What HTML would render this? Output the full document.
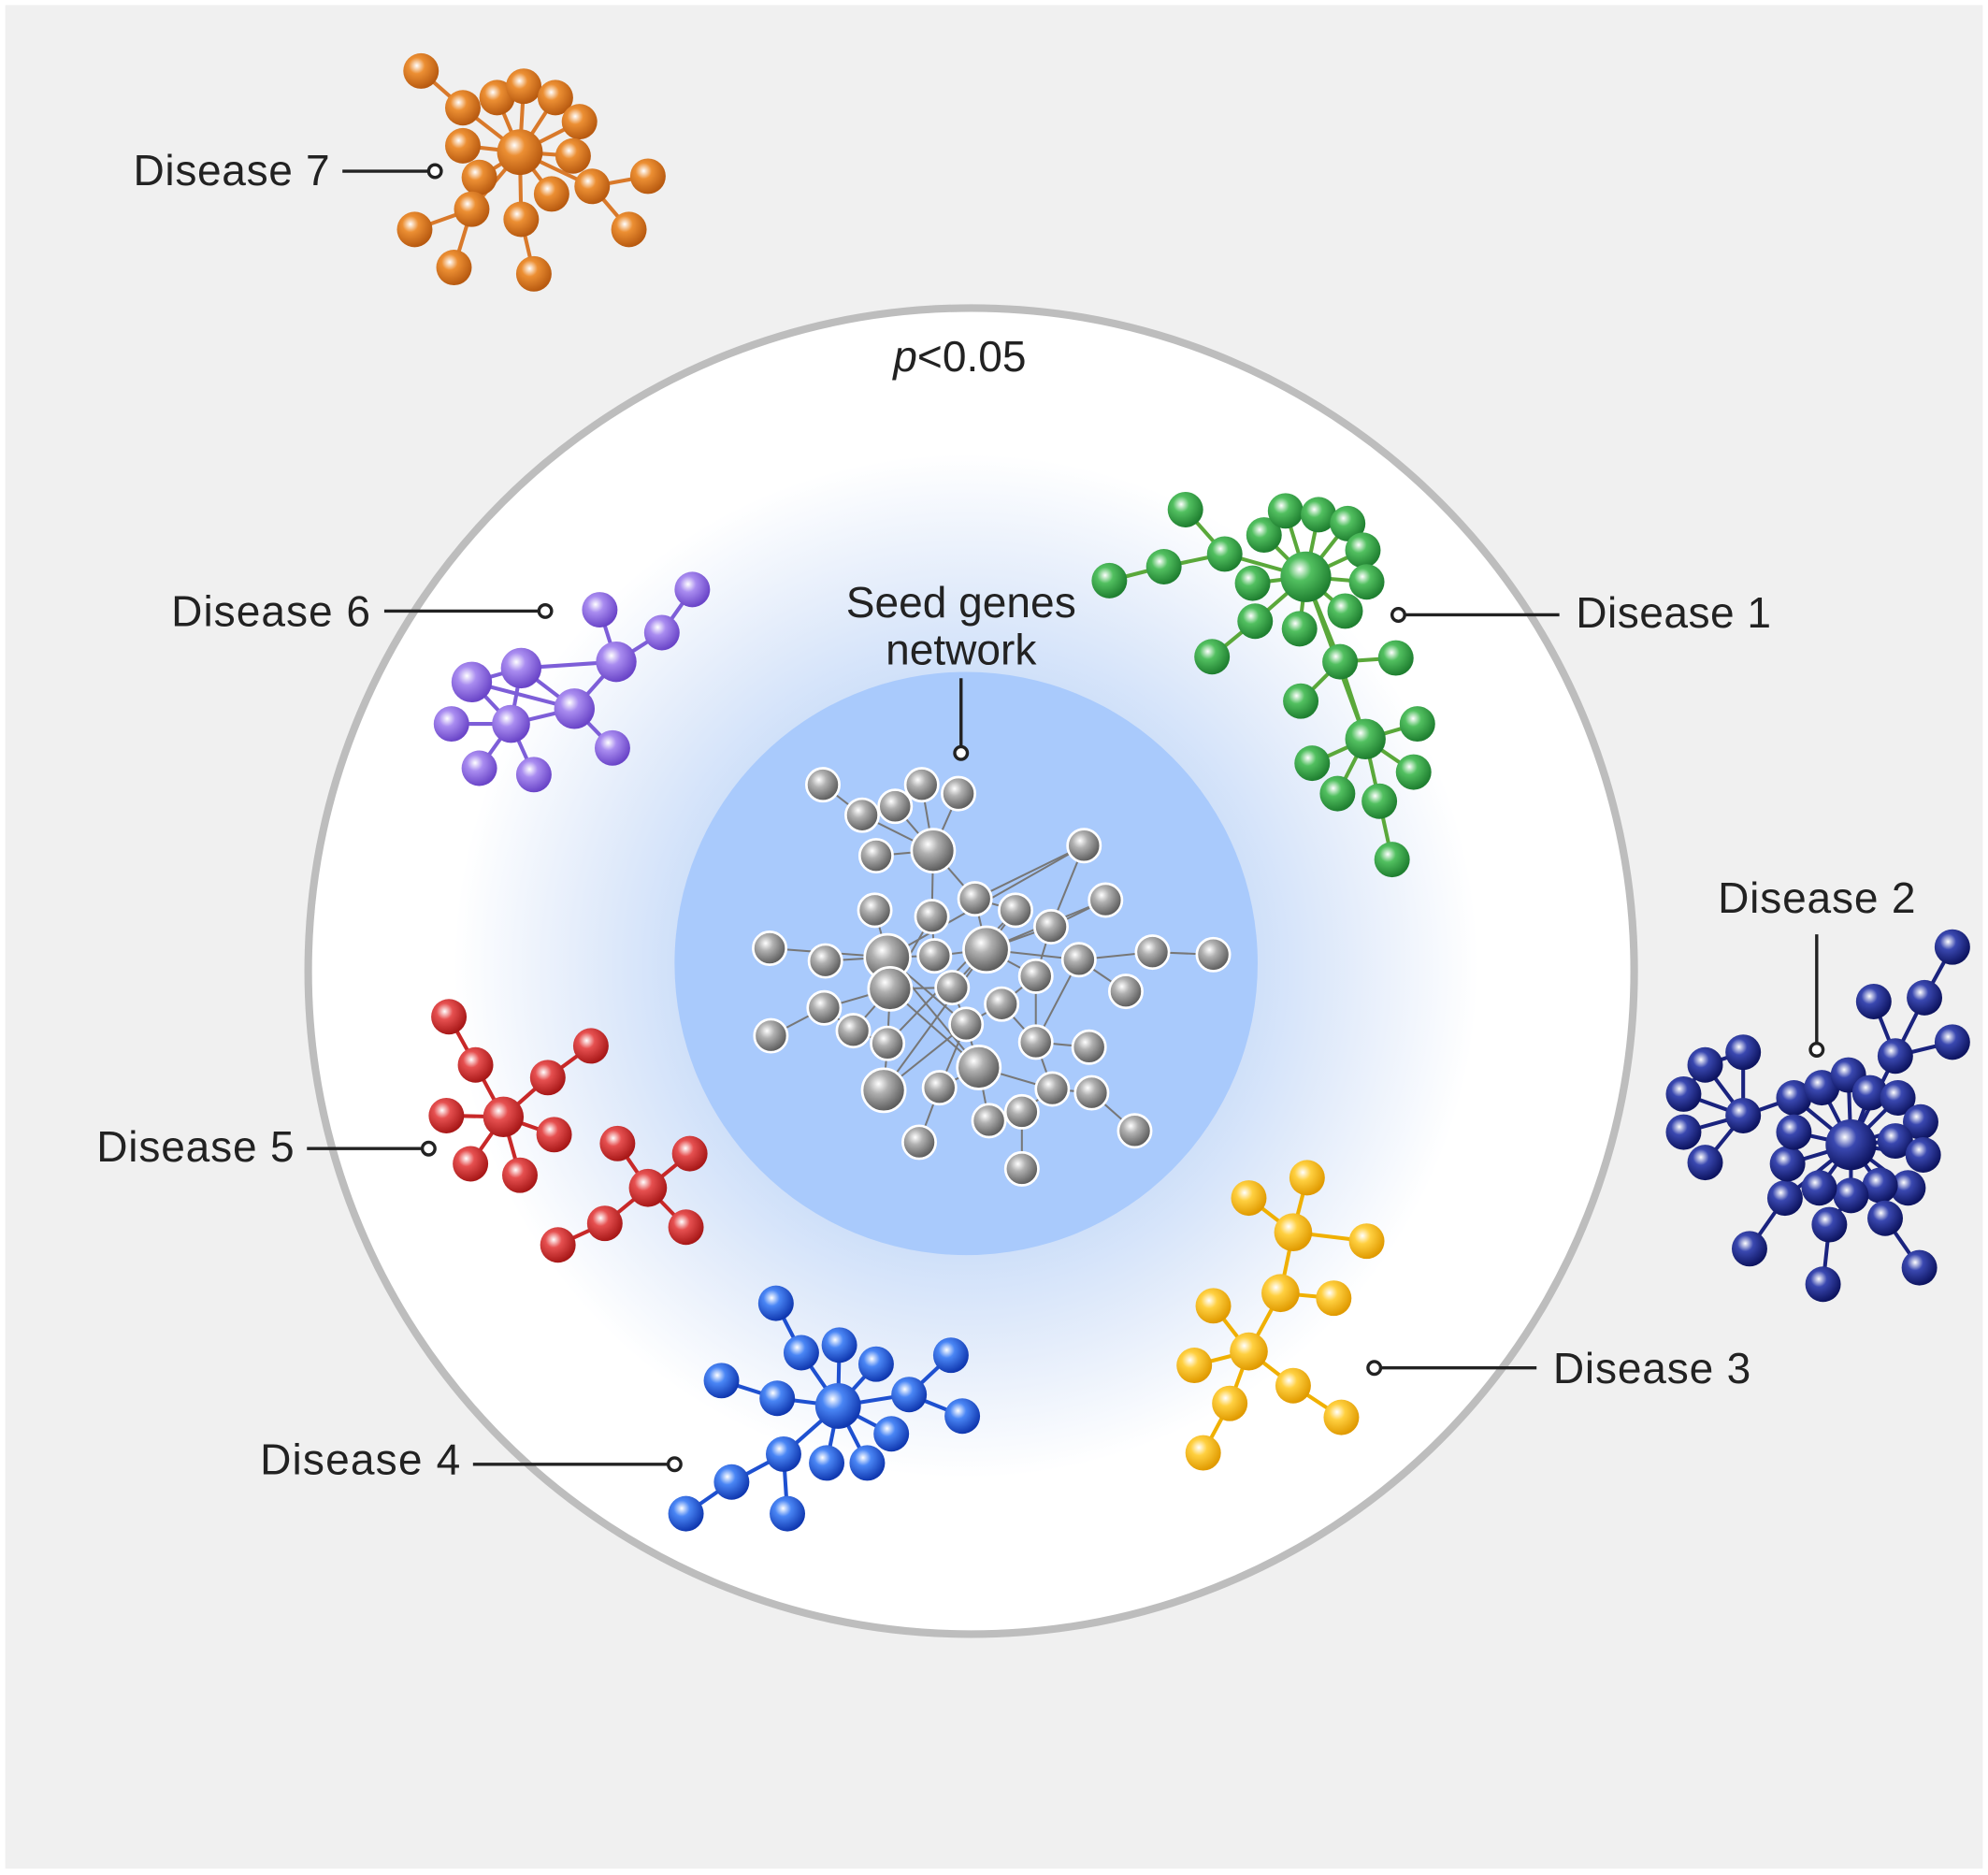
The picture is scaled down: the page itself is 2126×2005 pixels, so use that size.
<!DOCTYPE html>
<html><head><meta charset="utf-8"><style>
html,body{margin:0;padding:0;background:#fff}
svg{display:block}
text{font-family:"Liberation Sans",sans-serif;fill:#222}
</style></head><body>
<svg id="s" width="2126" height="2005" viewBox="0 0 1568 1479" xmlns="http://www.w3.org/2000/svg">
<defs>
<radialGradient id="glow" cx="0.5" cy="0.5" r="0.5">
<stop offset="0.44" stop-color="#cfe0f9"/>
<stop offset="0.6" stop-color="#e6eefb"/>
<stop offset="0.78" stop-color="#ffffff"/>
</radialGradient>
</defs>
<rect x="0" y="0" width="1568" height="1479" fill="#fff"/>
<rect x="4" y="4" width="1560" height="1470" fill="#f0f0f0"/>
<circle cx="766" cy="766" r="523" fill="#fff"/>
<circle cx="762" cy="762" r="518" fill="url(#glow)"/>
<circle cx="766" cy="766" r="523" fill="none" stroke="#bdbdbd" stroke-width="6"/>
<circle cx="762" cy="760" r="230" fill="#a9cafc"/>
<g id="net"></g>
<g stroke="#222" stroke-width="2.5" fill="#fff">
<line x1="270" y1="135" x2="339" y2="135"/><circle cx="343" cy="135" r="5"/>
<line x1="303" y1="482" x2="425" y2="482"/><circle cx="430" cy="482" r="5"/>
<line x1="1108" y1="485" x2="1230" y2="485"/><circle cx="1103" cy="485" r="5"/>
<line x1="1433" y1="737" x2="1433" y2="823"/><circle cx="1433" cy="828" r="5"/>
<line x1="242" y1="906" x2="333" y2="906"/><circle cx="338" cy="906" r="5"/>
<line x1="373" y1="1155" x2="527" y2="1155"/><circle cx="532" cy="1155" r="5"/>
<line x1="1089" y1="1079" x2="1212" y2="1079"/><circle cx="1084" cy="1079" r="5"/>
<line x1="758" y1="535" x2="758" y2="589"/><circle cx="758" cy="594" r="5"/>
</g>
<g font-size="34">
<text x="105" y="146" textLength="155">Disease 7</text>
<text x="135" y="494" textLength="157">Disease 6</text>
<text x="1243" y="495" textLength="154">Disease 1</text>
<text x="1355" y="720" textLength="156">Disease 2</text>
<text x="76" y="916" textLength="156">Disease 5</text>
<text x="205" y="1163" textLength="158">Disease 4</text>
<text x="1225" y="1091" textLength="156">Disease 3</text>
<text x="758" y="487" text-anchor="middle">Seed genes</text>
<text x="758" y="524" text-anchor="middle">network</text>
<text x="757" y="293" text-anchor="middle"><tspan font-style="italic">p</tspan>&lt;0.05</text>
</g>
</svg>
<script>
const NS="http://www.w3.org/2000/svg";
const net=document.getElementById('net');const defs=document.querySelector('defs');
function grad(id,c,d){const g=document.createElementNS(NS,'radialGradient');g.id=id;g.setAttribute('cx','0.38');g.setAttribute('cy','0.35');g.setAttribute('r','0.65');
g.innerHTML=`<stop offset="0" stop-color="#fff"/><stop offset="0.35" stop-color="${c}"/><stop offset="1" stop-color="${d}"/>`;defs.appendChild(g);}
function cluster(id,c,d,line,lw,nodes,edges,r){
 grad(id,c,d);
 const g=document.createElementNS(NS,'g');net.appendChild(g);
 edges.forEach(([a,b])=>{const l=document.createElementNS(NS,'line');const A=nodes[a],B=nodes[b];
 l.setAttribute('x1',A[0]);l.setAttribute('y1',A[1]);l.setAttribute('x2',B[0]);l.setAttribute('y2',B[1]);
 l.setAttribute('stroke',line);l.setAttribute('stroke-width',lw);g.appendChild(l);});
 nodes.forEach(n=>{const ci=document.createElementNS(NS,'circle');ci.setAttribute('cx',n[0]);ci.setAttribute('cy',n[1]);ci.setAttribute('r',n[2]||r);
 ci.setAttribute('fill',`url(#${id})`);if(id=='gr'){ci.setAttribute('stroke','#fff');ci.setAttribute('stroke-width','2');}g.appendChild(ci);});
}
function star(hub,n,extra){const e=[];for(let i=1;i<n;i++)if(!extra.skip||!extra.skip.includes(i))e.push([0,i]);return e.concat(extra.e||[]);}
let N=[[410,120,18],[332,56],[365,85],[392,77],[413,68],[438,77],[457,96],[365,115],[378,140],[452,123],[435,153],[467,147],[511,139],[496,181],[411,173],[372,165],[327,181],[358,211],[421,216]];
cluster('o','#ec8f33','#b85a10','#d9792a',3,N,star(0,N.length,{skip:[1,12,13,16,17,18],e:[[1,2],[11,12],[11,13],[15,16],[15,17],[14,18]]}),14);
N=[[546,465],[522,499],[486,522,16],[473,481],[411,527,16],[372,538,16],[453,559,16],[403,571,15],[356,571],[378,606],[421,611],[483,590]];
cluster('p','#a98cf0','#6a45c8','#7d5ed8',3,N,[[0,1],[1,2],[2,3],[2,4],[2,6],[4,5],[4,6],[5,6],[7,8],[7,9],[7,10],[6,11],[4,7],[5,7],[6,7]],14);
N=[[1030,455,20],[935,402],[966,437],[918,447],[875,458],[997,422],[1014,403],[1040,406],[1063,413],[1075,434],[1078,459],[1061,482],[1025,496],[990,490],[988,460],[956,518],[1057,522],[1101,519],[1026,553],[1077,583,16],[1118,571],[1115,609],[1088,632],[1055,626],[1035,602],[1098,678]];
cluster('g','#52c060','#1f7f30','#5aa83a',3,N,[[1,2],[4,3],[3,2],[2,0],[0,5],[0,6],[0,7],[0,8],[0,9],[0,10],[0,11],[0,12],[0,13],[0,14],[13,15],[0,16],[16,17],[16,18],[0,19],[16,19],[19,20],[19,21],[19,22],[19,23],[19,24],[22,25]],14);
N=[[1460,903,20],[1540,747],[1518,787],[1478,790],[1495,833],[1540,822],[1328,863],[1345,840],[1375,830],[1375,880],[1328,893],[1345,917],[1415,866],[1437,858],[1458,848],[1475,862],[1497,866],[1515,885],[1495,900],[1517,911],[1505,937],[1483,935],[1460,943],[1435,937],[1408,945],[1410,918],[1415,893],[1443,966],[1487,961],[1380,985],[1438,1013],[1514,1000]];
cluster('n','#3a48b0','#0d1460','#1a237e',3,N,[[1,2],[2,4],[3,4],[5,4],[4,0],[6,9],[7,9],[8,9],[10,9],[11,9],[9,12],[12,0],[0,13],[0,14],[0,15],[0,16],[0,17],[0,18],[0,19],[0,20],[0,21],[0,22],[0,23],[0,24],[0,25],[0,26],[22,27],[21,28],[24,29],[27,30],[28,31],[7,8],[6,7]],14);
N=[[397,881,16],[354,802],[375,840],[432,850],[466,825],[352,880],[437,895],[371,918],[410,927],[511,937,15],[487,902],[544,910],[477,965],[440,982],[541,968]];
cluster('r','#e65050','#a81818','#c82828',3,N,[[1,2],[2,0],[0,3],[3,4],[0,5],[0,6],[0,7],[0,8],[9,10],[9,11],[9,12],[12,13],[9,14]],14);
N=[[661,1109,18],[612,1028],[632,1067],[662,1061],[691,1076],[750,1069],[717,1100],[759,1117],[703,1131],[684,1154],[652,1154],[618,1147],[577,1169],[541,1194],[621,1194],[569,1089],[613,1103]];
cluster('b','#4a86f5','#1038b0','#1e50d0',3,N,[[1,2],[2,0],[0,3],[0,4],[5,6],[6,0],[6,7],[0,8],[0,9],[0,10],[0,11],[11,12],[12,13],[11,14],[15,16],[16,0]],14);
N=[[1031,929],[1020,972,15],[985,945],[1078,979],[1010,1020,15],[1052,1024],[985,1066,15],[957,1030],[942,1077],[970,1107],[949,1146],[1020,1093],[1058,1118]];
cluster('y','#ffd040','#e09a00','#f0b000',3,N,[[0,1],[2,1],[1,3],[1,4],[4,5],[4,6],[6,7],[6,8],[6,9],[6,11],[9,10],[11,12]],14);
N=[[649,619],[680,643],[706,636],[727,619],[756,626],[691,675],[736,671,17],[855,667],[872,710],[690,718],[735,723],[769,709],[801,718],[829,731],[607,748],[651,758],[700,755,18],[737,754],[778,749,18],[851,757],[909,751],[957,753],[702,780,17],[751,779],[817,770],[888,782],[650,795],[608,817],[673,813],[790,792],[762,808],[700,823],[817,822],[859,826],[772,842,17],[697,860,17],[741,858],[830,859],[861,862],[780,884],[806,877],[895,892],[725,901],[806,922]];
let E=[[0,1],[1,6],[2,6],[3,6],[4,6],[5,6],[6,11],[6,10],[7,11],[7,13],[8,13],[8,18],[9,16],[10,17],[11,12],[12,18],[13,18],[14,16],[15,16],[16,22],[16,17],[17,18],[18,19],[19,20],[20,21],[18,24],[24,29],[25,19],[22,23],[23,18],[22,26],[26,27],[26,28],[28,31],[22,31],[29,30],[30,34],[31,35],[34,36],[34,37],[32,33],[32,37],[37,38],[38,41],[34,39],[37,40],[40,43],[36,42],[35,30],[16,34],[22,34],[12,31],[7,16],[18,35],[24,32],[23,30],[29,32],[30,36],[10,22],[11,18],[13,24],[19,32],[16,30],[28,22]];
cluster('gr','#b0b0b0','#5a5a5a','#777',1.5,N,E,13);
</script>
</body></html>
